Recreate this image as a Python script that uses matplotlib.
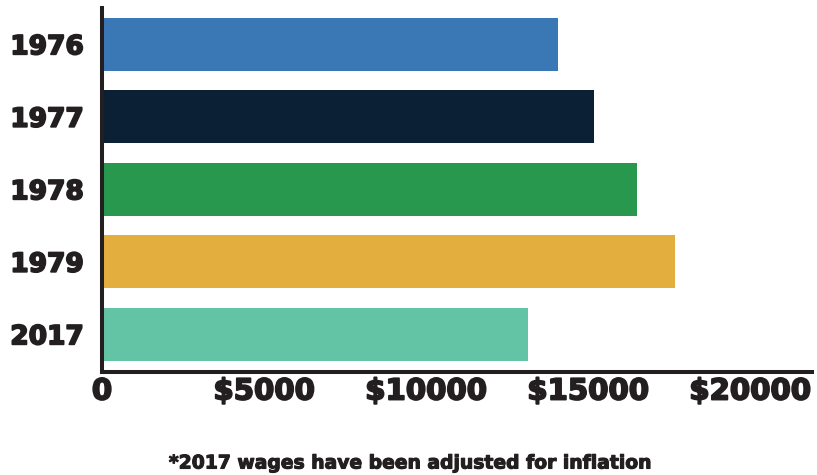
import matplotlib
matplotlib.use("Agg")
import matplotlib.pyplot as plt
import matplotlib.patheffects as pe

# average yearly wages
years = ["1976", "1977", "1978", "1979", "2017"]
wages = [14070, 15190, 16510, 17690, 13150]
bar_colors = ["#3a78b5", "#0b2035", "#27984e", "#e3ae3d", "#62c4a5"]
tick_values = [0, 5000, 10000, 15000, 20000]
tick_labels = ["0", "$5000", "$10000", "$15000", "$20000"]

plt.rcParams["font.family"] = ["DejaVu Sans"]
ink = "#231f20"
# thicken the bold glyphs a little
heavy = [pe.withStroke(linewidth=1.3, foreground=ink)]

fig = plt.figure(figsize=(8.17, 4.75), dpi=100)
ax = fig.add_axes([102 / 817, (475 - 372) / 475, (812 - 102) / 817, (372 - 8) / 475])

pos = list(range(len(years)))
ax.barh(pos, wages, height=0.73, color=bar_colors, zorder=1)

ax.set_xlim(0, 21914)
ax.set_ylim(4.52, -0.5)

ax.set_yticks(pos)
ax.set_yticklabels(years, fontsize=19, fontweight="bold", color=ink)
ax.set_xticks(tick_values)
ax.set_xticklabels(tick_labels, fontsize=21, fontweight="bold", color=ink)
for lbl in ax.get_xticklabels() + ax.get_yticklabels():
    lbl.set_path_effects(heavy)
ax.tick_params(axis="both", length=0)
ax.tick_params(axis="y", pad=13)
ax.tick_params(axis="x", pad=4)

for side in ["top", "right"]:
    ax.spines[side].set_visible(False)
for side in ["left", "bottom"]:
    ax.spines[side].set_linewidth(2.9)
    ax.spines[side].set_color(ink)
    ax.spines[side].set_zorder(3)

fig.text(0.502, 1 - 463 / 475, "*2017 wages have been adjusted for inflation",
         ha="center", va="center", fontsize=13.5, fontweight="bold", color=ink,
         path_effects=[pe.withStroke(linewidth=0.8, foreground=ink)])

fig.savefig("out.png", dpi=100)
